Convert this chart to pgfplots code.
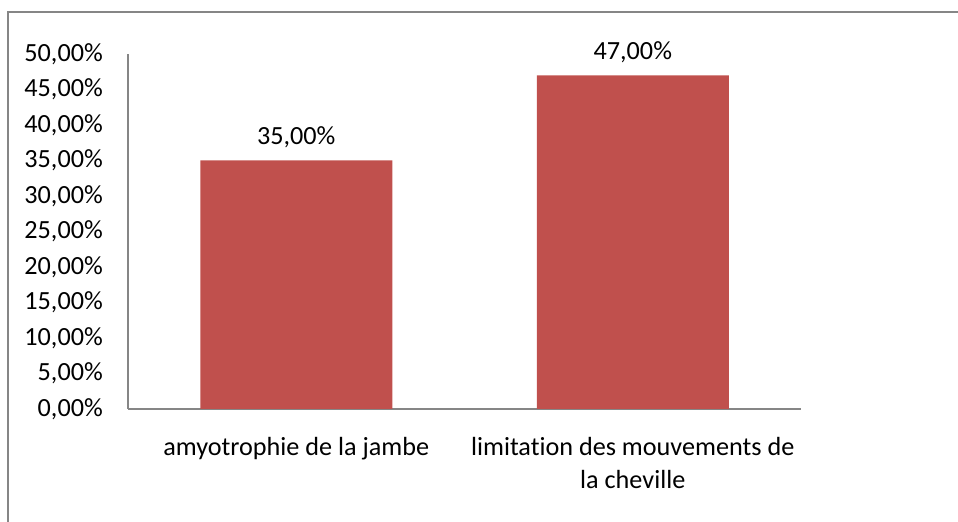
\documentclass[border=0pt]{standalone}
\usepackage{pgfplots}
\pgfplotsset{compat=1.18}
\usepackage{fontspec}
\setmainfont{Carlito}[Ligatures={NoCommon}]
\definecolor{barred}{HTML}{C0504D}
\definecolor{axgray}{HTML}{868686}
\begin{document}
\fontsize{26.2bp}{33bp}\selectfont
\begin{tikzpicture}[x=1bp,y=1bp]
\useasboundingbox (0,0) rectangle (958,522);
\draw[axgray, line width=1.5bp] (8,0) -- (8,510) -- (958,510);
\begin{axis}[
  at={(128bp,113bp)}, anchor=south west,
  scale only axis, width=673bp, height=355bp,
  xmin=-0.5, xmax=1.5, ymin=0, ymax=50,
  enlarge x limits=false, enlarge y limits=false,
  axis lines=left,
  axis line style={-, draw=axgray, line width=1.2bp},
  major tick length=0pt,
  ytick={0,5,...,50},
  xtick={0,1},
  xticklabels={amyotrophie de la jambe, {limitation des mouvements de\\la cheville}},
  xticklabel style={align=center, inner sep=0pt, yshift=-28bp},
  yticklabel style={inner sep=0pt, xshift=-25bp},
  /pgf/number format/assume math mode=true,
  yticklabel={\pgfmathprintnumber[fixed,fixed zerofill,precision=2,use comma]{\tick}\%},
  ybar, bar width=192bp,
  nodes near coords={\pgfmathprintnumber[fixed,fixed zerofill,precision=2,use comma]{\pgfplotspointmeta}\%},
  nodes near coords style={black, inner sep=0pt, yshift=12bp},
  tick label style={black},
]
\addplot[fill=barred, draw=none] coordinates {(0,35) (1,47)};
\end{axis}
\end{tikzpicture}
\end{document}
